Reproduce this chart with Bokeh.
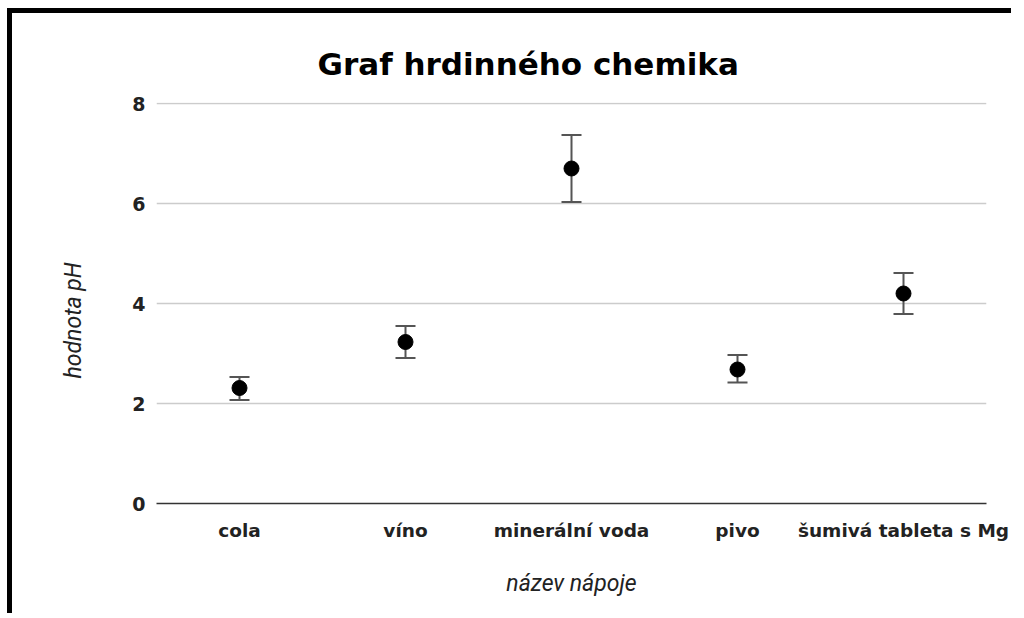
from bokeh.plotting import figure
from bokeh.models import ColumnDataSource, Whisker, TeeHead, FixedTicker, Title, FactorRange, Range1d
from bokeh.embed import file_html
from bokeh.resources import INLINE

categories = ["cola", "víno", "minerální voda", "pivo", "šumivá tableta s Mg"]
ph_values = [2.31, 3.23, 6.70, 2.68, 4.20]
ph_upper = [2.53, 3.55, 7.37, 2.97, 4.61]
ph_lower = [2.07, 2.91, 6.03, 2.42, 3.79]
y_ticks = [0, 2, 4, 6, 8]

source = ColumnDataSource(data=dict(x=categories, y=ph_values, upper=ph_upper, lower=ph_lower))

p = figure(
    x_range=FactorRange(*categories),
    y_range=Range1d(0, 8.02),
    width=1004, height=605,
    output_backend="svg", toolbar_location=None,
    min_border_left=144, min_border_right=30, min_border_top=89, min_border_bottom=115,
    styles={"border-top": "5px solid black", "border-left": "5px solid black",
            "margin-top": "8px", "margin-left": "7px"},
)
p.title = None
t = Title(text="Graf hrdinného chemika", align="left", offset=161, standoff=41,
          text_font="DejaVu Sans", text_font_style="bold", text_font_size="31px", text_color="black")
p.add_layout(t, "above")

ylab = Title(text="hodnota pH", align="left", offset=125, standoff=86,
             text_font="Roboto", text_font_style="italic", text_font_size="23px", text_color="#222222")
p.add_layout(ylab, "left")

whisk = Whisker(source=source, base="x", upper="upper", lower="lower",
                line_color="#555555", line_width=2,
                upper_head=TeeHead(size=20, line_color="#555555", line_width=2),
                lower_head=TeeHead(size=20, line_color="#555555", line_width=2))
p.add_layout(whisk)
p.scatter("x", "y", source=source, size=15, color="black")

p.outline_line_color = None
p.xgrid.grid_line_color = None
p.ygrid.grid_line_color = "#cccccc"
p.ygrid.grid_line_width = 1.5
p.yaxis.ticker = FixedTicker(ticks=y_ticks)

for ax in (p.xaxis, p.yaxis):
    ax.major_tick_line_color = None
    ax.minor_tick_line_color = None
    ax.major_tick_out = 0
    ax.major_tick_in = 0
    ax.major_label_text_font = "DejaVu Sans"
    ax.major_label_text_font_style = "bold"
    ax.major_label_text_color = "#222222"
    ax.axis_label_text_font = "Roboto"
    ax.axis_label_text_font_style = "italic"
    ax.axis_label_text_font_size = "23px"
    ax.axis_label_text_color = "#222222"

p.yaxis.major_label_text_font_size = "19px"
p.xaxis.major_label_text_font_size = "18.5px"

p.yaxis.axis_line_color = None
p.yaxis.major_label_standoff = 11

p.xaxis.axis_line_color = "#333333"
p.xaxis.axis_line_width = 1.5
p.xaxis.major_label_standoff = 16
p.xaxis.axis_label = "název nápoje"
p.xaxis.axis_label_standoff = 26

open("out.html", "w").write(file_html(p, INLINE))
